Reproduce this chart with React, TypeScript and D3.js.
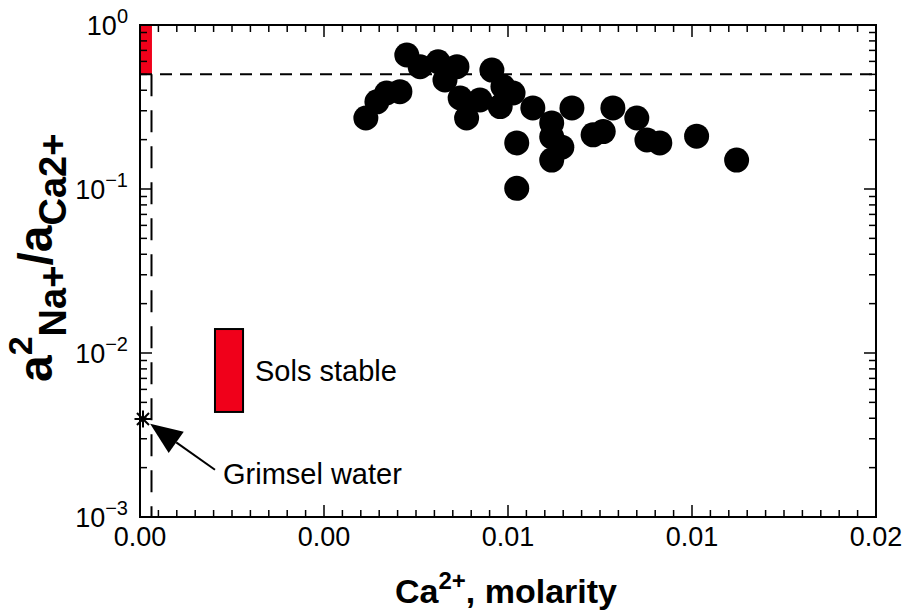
import React from "react";
import * as d3 from "d3";

const caMolarity = [
  0.00491, 0.00515, 0.00536, 0.00565, 0.0058, 0.00609, 0.00648, 0.00689,
  0.00663, 0.00696, 0.0071, 0.00739, 0.00765, 0.00783, 0.00811, 0.00789,
  0.00854, 0.00895, 0.00895, 0.00917, 0.00895, 0.00939, 0.00819, 0.00819,
  0.00985, 0.01007, 0.01028, 0.0108, 0.01102, 0.0113, 0.0121, 0.01297,
];
const ratio = [
  0.271, 0.34, 0.385, 0.392, 0.656, 0.557, 0.597, 0.557,
  0.462, 0.359, 0.271, 0.349, 0.531, 0.318, 0.385, 0.421,
  0.312, 0.253, 0.208, 0.18, 0.15, 0.312, 0.191, 0.101,
  0.214, 0.224, 0.312, 0.271, 0.199, 0.191, 0.21, 0.15,
];

const xTicks = [0, 0.004, 0.008, 0.012, 0.016];
const yTickExps = [0, -1, -2, -3];

const solsBox = { x0: 0.00163, x1: 0.00224, y0: 0.00437, y1: 0.014 };
const topBox = { x0: 0, x1: 0.00026, y0: 0.5, y1: 1 };
const thresholdY = 0.5;
const thresholdX = 0.00025;
const grimsel = { x: 0.000065, y: 0.00396 };
const arrowFrom = { x: 0.00163, y: 0.00194 };
const arrowTo = { x: 0.00022, y: 0.0037 };

const W = 905;
const H = 612;
const M = { left: 140, right: 876, top: 25, bottom: 517 };
const FONT = "'Liberation Sans', Arial, Helvetica, sans-serif";

export default function App() {
  const x = d3.scaleLinear().domain([0, 0.016]).range([M.left, M.right]);
  const y = d3.scaleLog().domain([0.001, 1]).range([M.bottom, M.top]);

  const xMinor = d3.range(0, 0.016 + 1e-9, 0.0004);
  const yMinor: number[] = [];
  for (let e = -3; e < 0; e++) for (let k = 2; k <= 9; k++) yMinor.push(k * Math.pow(10, e));

  const majorLen = 12;
  const minorLen = 7;

  const tx = x(arrowTo.x), ty = y(arrowTo.y);
  const fx = x(arrowFrom.x), fy = y(arrowFrom.y);
  const ang = Math.atan2(ty - fy, tx - fx);
  const hl = 32, hw = 13;
  const bx = tx - hl * Math.cos(ang), by = ty - hl * Math.sin(ang);
  const head = [
    [tx, ty],
    [bx + hw * Math.sin(ang), by - hw * Math.cos(ang)],
    [bx - hw * Math.sin(ang), by + hw * Math.cos(ang)],
  ];

  const gx = x(grimsel.x), gy = y(grimsel.y);
  const star = 8.5;

  return (
    <svg width={W} height={H} style={{ position: "absolute", left: 0, top: 0 }} fontFamily={FONT}>
      <rect width={W} height={H} fill="#fff" />
      <rect x={x(topBox.x0)} y={y(topBox.y1)} width={x(topBox.x1) - x(topBox.x0)} height={y(topBox.y0) - y(topBox.y1)} fill="#f0001a" />
      <rect x={x(solsBox.x0)} y={y(solsBox.y1)} width={x(solsBox.x1) - x(solsBox.x0)} height={y(solsBox.y0) - y(solsBox.y1)} fill="#f0001a" stroke="#000" strokeWidth={2} />
      <line x1={M.left} x2={M.right} y1={y(thresholdY)} y2={y(thresholdY)} stroke="#000" strokeWidth={2} strokeDasharray="12,8" />
      <line x1={x(thresholdX)} x2={x(thresholdX)} y1={y(thresholdY)} y2={M.bottom} stroke="#000" strokeWidth={2} strokeDasharray="22,14" />
      {caMolarity.map((c, i) => (
        <circle key={i} cx={x(c)} cy={y(ratio[i])} r={12.5} fill="#000" />
      ))}
      {[0, 45, 90, 135].map((a) => {
        const r = (a * Math.PI) / 180;
        return <line key={a} x1={gx - star * Math.cos(r)} y1={gy - star * Math.sin(r)} x2={gx + star * Math.cos(r)} y2={gy + star * Math.sin(r)} stroke="#000" strokeWidth={2} />;
      })}
      <line x1={fx} y1={fy} x2={bx} y2={by} stroke="#000" strokeWidth={2} />
      <polygon points={head.map((p) => p.join(",")).join(" ")} fill="#000" />
      <text x={fx + 8} y={fy + 14} fontSize={29} fill="#000">Grimsel water</text>
      <text x={x(solsBox.x1) + 12} y={(y(solsBox.y0) + y(solsBox.y1)) / 2 + 11} fontSize={29} fill="#000">Sols stable</text>

      <rect x={M.left} y={M.top} width={M.right - M.left} height={M.bottom - M.top} fill="none" stroke="#000" strokeWidth={2} />
      {xMinor.map((v, i) => {
        const isMajor = i % 10 === 0;
        const L = isMajor ? majorLen : minorLen;
        return (
          <g key={"xt" + i}>
            <line x1={x(v)} x2={x(v)} y1={M.bottom} y2={M.bottom - L} stroke="#000" strokeWidth={1.5} />
            <line x1={x(v)} x2={x(v)} y1={M.top} y2={M.top + L} stroke="#000" strokeWidth={1.5} />
          </g>
        );
      })}
      {xTicks.map((v) => (
        <text key={"xl" + v} x={x(v)} y={M.bottom + 29} fontSize={27} textAnchor="middle" fill="#000">
          {v.toFixed(2)}
        </text>
      ))}
      {yMinor.map((v, i) => (
        <g key={"ym" + i}>
          <line x1={M.left} x2={M.left + minorLen} y1={y(v)} y2={y(v)} stroke="#000" strokeWidth={1.5} />
          <line x1={M.right} x2={M.right - minorLen} y1={y(v)} y2={y(v)} stroke="#000" strokeWidth={1.5} />
        </g>
      ))}
      {yTickExps.map((e) => {
        const v = Math.pow(10, e);
        return (
          <g key={"yM" + e}>
            <line x1={M.left} x2={M.left + majorLen} y1={y(v)} y2={y(v)} stroke="#000" strokeWidth={1.5} />
            <line x1={M.right} x2={M.right - majorLen} y1={y(v)} y2={y(v)} stroke="#000" strokeWidth={1.5} />
            <text x={M.left - 12} y={y(v) + 10} fontSize={27} textAnchor="end" fill="#000">
              10
              <tspan fontSize={20} dy={-12}>{e === 0 ? "0" : "\u2212" + Math.abs(e)}</tspan>
            </text>
          </g>
        );
      })}
      <text x={506} y={603} fontSize={34} fontWeight="bold" textAnchor="middle" fill="#000">
        Ca<tspan fontSize={24} dy={-14}>2+</tspan>
        <tspan dy={14}>, molarity</tspan>
      </text>
      <text transform={`translate(52,382) rotate(-90)`} fontSize={48} fontWeight="bold" fill="#000">
        a<tspan fontSize={34} dy={-20}>2</tspan>
        <tspan fontSize={38} dy={34}>Na+</tspan>
        <tspan dy={-14}>/a</tspan>
        <tspan fontSize={38} dy={14}>Ca2+</tspan>
      </text>
    </svg>
  );
}
